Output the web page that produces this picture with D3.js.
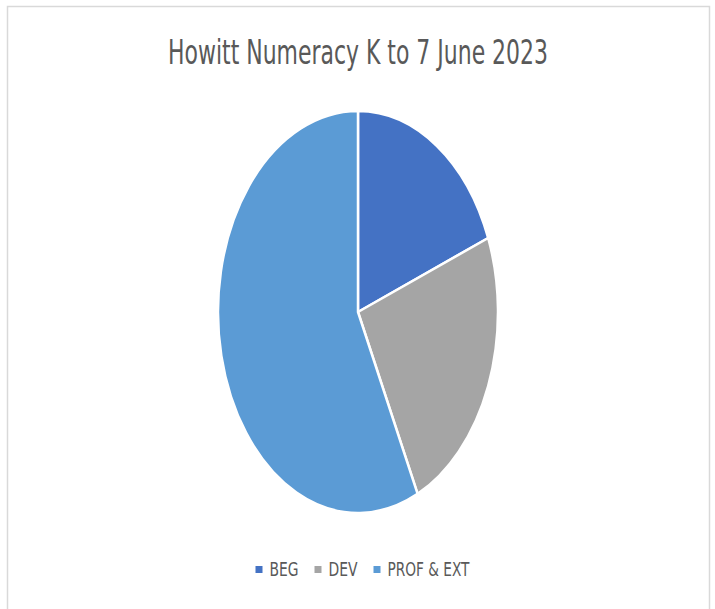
<!DOCTYPE html>
<html>
<head>
<meta charset="utf-8">
<script src="https://cdn.jsdelivr.net/npm/d3@7"></script>
<style>
  body { margin: 0; background: #fff; }
  svg { display: block; }
</style>
</head>
<body>
<div id="chart"></div>
<script>
const width = 715;
const height = 609;

// data (share of students, %)
const categories = ["BEG", "DEV", "PROF & EXT"];
const values = [19, 24, 57];
const colours = ["#4472C4", "#A5A5A5", "#5B9BD5"];
const title = "Howitt Numeracy K to 7 June 2023";

const font = "'Liberation Sans Narrow', 'DejaVu Sans Condensed', 'Open Sans', sans-serif";

// pie is drawn as a circle then stretched into an ellipse
const cx = 358, cy = 312;
const rx = 140, ry = 201;

const svg = d3.select('#chart')
  .append('svg')
  .attr('width', width)
  .attr('height', height);

// chart frame
svg.append('rect')
  .attr('x', 7.5)
  .attr('y', 6.5)
  .attr('width', 702)
  .attr('height', 610)
  .attr('fill', '#fff')
  .attr('stroke', '#d9d9d9')
  .attr('stroke-width', 1.5);

svg.append('text')
  .attr('x', cx)
  .attr('y', 64)
  .attr('text-anchor', 'middle')
  .attr('font-family', font)
  .attr('font-size', 34)
  .attr('fill', '#595959')
  .attr('textLength', 380)
  .attr('lengthAdjust', 'spacingAndGlyphs')
  .text(title);

const pie = d3.pie().sort(null).value(d => d);
const arc = d3.arc().innerRadius(0).outerRadius(rx);

const graph = svg.append('g')
  .attr('transform', 'translate(' + cx + ',' + cy + ') scale(1,' + (ry / rx) + ')');

graph.selectAll('path')
  .data(pie(values))
  .enter()
  .append('path')
    .attr('d', arc)
    .attr('fill', (d, i) => colours[i])
    .attr('stroke', '#fff')
    .attr('stroke-width', 2.5)
    .attr('vector-effect', 'non-scaling-stroke')
    .attr('stroke-linejoin', 'round');

// legend; the fallback font is wider than the original, so squeeze
// the labels to the original's widths (about 10px per glyph)
const legend = svg.append('g');
const legendY = 576;
const markerSize = 7;
const markerGap = 7;
const itemGap = 16;
const labelWidth = d => d.length <= 3 ? 29 : 82;

const items = legend.selectAll('g')
  .data(categories)
  .enter()
  .append('g');

items.append('rect')
  .attr('width', markerSize)
  .attr('height', markerSize)
  .attr('y', legendY - 10)
  .attr('fill', (d, i) => colours[i]);

items.append('text')
  .attr('x', markerSize + markerGap)
  .attr('y', legendY)
  .attr('font-family', font)
  .attr('font-size', 20)
  .attr('fill', '#595959')
  .attr('textLength', labelWidth)
  .attr('lengthAdjust', 'spacingAndGlyphs')
  .text(d => d);

const widths = categories.map(d => markerSize + markerGap + labelWidth(d));
const total = d3.sum(widths) + itemGap * (widths.length - 1);
let start = 362.5 - total / 2;
items.attr('transform', (d, i) => {
  const x = start;
  start += widths[i] + itemGap;
  return 'translate(' + x + ',0)';
});
</script>
</body>
</html>
